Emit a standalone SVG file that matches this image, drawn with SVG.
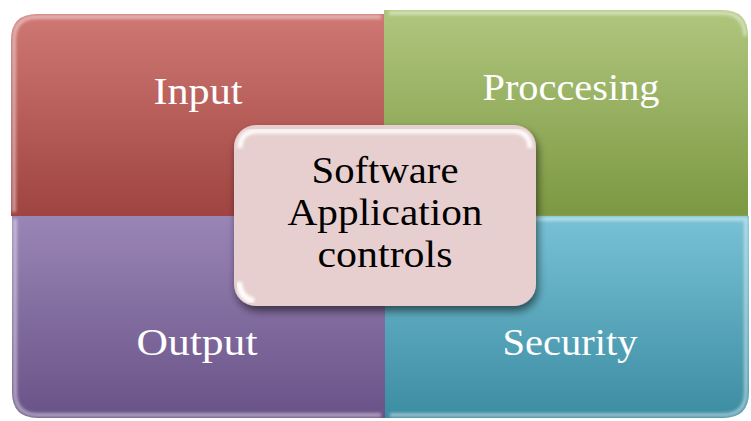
<svg xmlns="http://www.w3.org/2000/svg" width="751" height="421" viewBox="0 0 751 421">
<defs>
<linearGradient id="gRed" x1="0" y1="0" x2="0" y2="1"><stop offset="0" stop-color="#cf7873"/><stop offset="1" stop-color="#9f4440"/></linearGradient>
<linearGradient id="gGreen" x1="0" y1="0" x2="0" y2="1"><stop offset="0" stop-color="#b0c67e"/><stop offset="1" stop-color="#7c9842"/></linearGradient>
<linearGradient id="gPurple" x1="0" y1="0" x2="0" y2="1"><stop offset="0" stop-color="#9a86b6"/><stop offset="1" stop-color="#695287"/></linearGradient>
<linearGradient id="gTeal" x1="0" y1="0" x2="0" y2="1"><stop offset="0" stop-color="#78c2d6"/><stop offset="1" stop-color="#3c8ca2"/></linearGradient>
<filter id="soft" x="-10%" y="-10%" width="120%" height="120%"><feGaussianBlur stdDeviation="1.5"/></filter>
<filter id="shadow" x="-10%" y="-10%" width="125%" height="130%"><feGaussianBlur in="SourceAlpha" stdDeviation="4"/><feOffset dx="2" dy="5"/><feComponentTransfer><feFuncA type="linear" slope="0.55"/></feComponentTransfer><feMerge><feMergeNode/><feMergeNode in="SourceGraphic"/></feMerge></filter>
</defs>
<style>
.lbl{font-family:"Palatino Linotype","Book Antiqua","Liberation Serif",serif;font-size:38px;fill:#ffffff;text-anchor:middle}
.ctr{font-family:"Palatino Linotype","Book Antiqua","Liberation Serif",serif;font-size:38px;fill:#000000;text-anchor:middle}
.hl{fill:none;stroke:#ffffff;stroke-opacity:0.45;stroke-width:4;filter:url(#soft)}
.hs{fill:none;stroke:#ffffff;stroke-opacity:0.2;stroke-width:4;filter:url(#soft)}
</style>
<g id="input">
<path d="M11,216 L11,40 Q11,14 37,14 L385,14 L385,216 Z" fill="url(#gRed)"/>
<path class="hl" d="M14,212 L14,40 Q14,17 37,17 L381,17"/>
<text class="lbl" x="198" y="104" textLength="89" lengthAdjust="spacingAndGlyphs">Input</text>
</g>
<g id="processing">
<path d="M384,10 L722,10 Q748,10 748,36 L748,216 L384,216 Z" fill="url(#gGreen)"/>
<path class="hl" d="M389,13 L722,13 Q745,13 745,36"/>
<path class="hs" d="M387,14 L387,212"/>
<text class="lbl" x="571" y="100" textLength="177" lengthAdjust="spacingAndGlyphs">Proccesing</text>
</g>
<g id="output">
<path d="M12,216 L386,216 L386,418 L38,418 Q12,418 12,392 Z" fill="url(#gPurple)"/>
<path class="hl" d="M15,219 L15,392 Q15,415 38,415 L381,415"/>
<text class="lbl" x="197" y="355" textLength="121" lengthAdjust="spacingAndGlyphs">Output</text>
</g>
<g id="security">
<path d="M385,216 L749,216 L749,392 Q749,418 723,418 L385,418 Z" fill="url(#gTeal)"/>
<path class="hl" d="M390,219 L746,219 L746,392 Q746,415 723,415 L390,415"/>
<path class="hs" d="M388,220 L388,414"/>
<text class="lbl" x="570" y="355" textLength="135" lengthAdjust="spacingAndGlyphs">Security</text>
</g>
<g id="center">
<rect x="234" y="125" width="302" height="181" rx="22" fill="#e8cfcf" filter="url(#shadow)"/>
<path d="M240,148 Q240,131 258,131 L512,131 Q530,131 530,148" fill="none" stroke="#ffffff" stroke-width="5" stroke-opacity="0.9" filter="url(#soft)"/>
<path d="M238,150 L238,282" fill="none" stroke="#ffffff" stroke-width="3" stroke-opacity="0.6" filter="url(#soft)"/>
<path d="M239,282 Q240,298 254,301" fill="none" stroke="#ffffff" stroke-width="6" stroke-opacity="0.95" filter="url(#soft)"/>
<text class="ctr" x="385" y="183" textLength="147" lengthAdjust="spacingAndGlyphs">Software</text>
<text class="ctr" x="385" y="225" textLength="195" lengthAdjust="spacingAndGlyphs">Application</text>
<text class="ctr" x="385" y="267" textLength="135" lengthAdjust="spacingAndGlyphs">controls</text>
</g>
</svg>
